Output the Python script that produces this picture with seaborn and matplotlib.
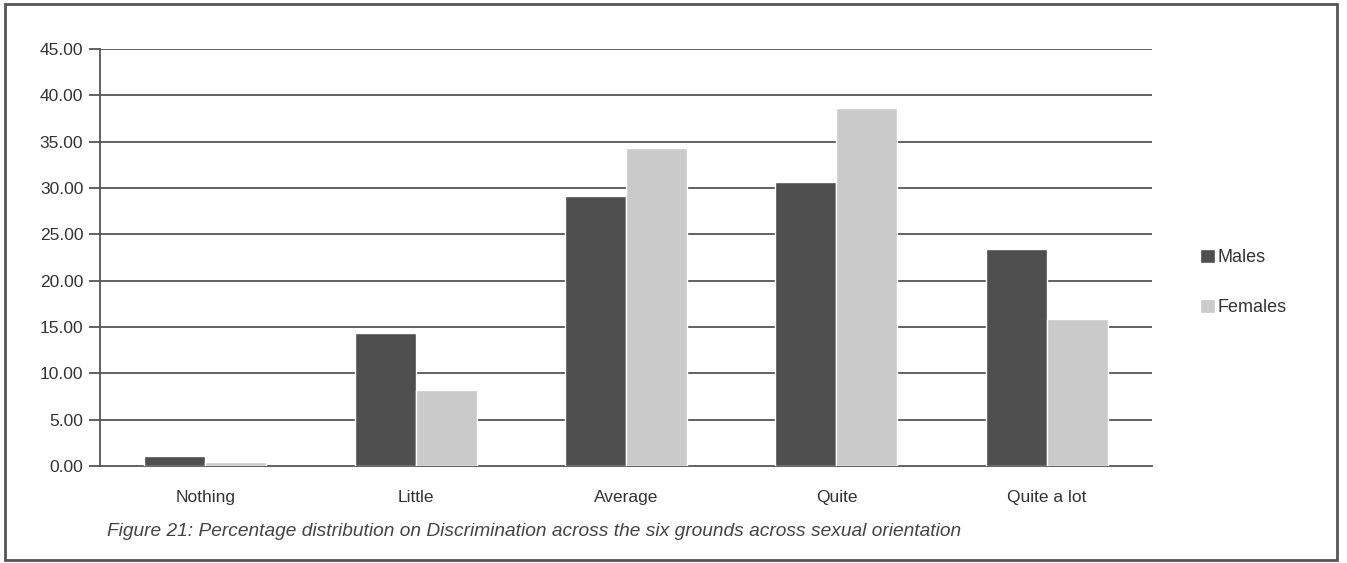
import pandas as pd
import numpy as np
import seaborn as sns
import matplotlib.pyplot as plt
from matplotlib.patches import Rectangle

categories = ['Nothing', 'Little', 'Average', 'Quite', 'Quite a lot']
males = [1.1, 14.3, 29.1, 30.7, 23.4]
females = [0.4, 8.2, 34.3, 38.6, 15.9]
yticks = [0, 5, 10, 15, 20, 25, 30, 35, 40, 45]

df = pd.DataFrame({
    'category': categories * 2,
    'value': males + females,
    'sex': ['Males'] * 5 + ['Females'] * 5,
})

sns.set_style('white')
plt.rcParams['font.family'] = ['Liberation Sans', 'DejaVu Sans']

fig = plt.figure(figsize=(13.47, 5.63), dpi=100)
ax = fig.add_axes([100 / 1347, 1 - 466 / 563, 1052 / 1347, 417 / 563])

sns.barplot(data=df, x='category', y='value', hue='sex', order=categories,
            hue_order=['Males', 'Females'],
            palette={'Males': '#4f4f4f', 'Females': '#cacaca'},
            width=0.58, gap=0.0, ax=ax, zorder=3, legend=True)

ax.set_ylim(0, 45)
ax.set_xlim(-0.5, 4.5)
ax.set_yticks(yticks)
ax.set_yticklabels([f'{t:.2f}' for t in yticks], fontsize=12.5, color='#333333')
ax.tick_params(axis='x', labelsize=12.5, colors='#333333', length=0, pad=17)
ax.tick_params(axis='y', length=8, width=1.3, color='#555555', left=True, pad=4)
ax.set_xlabel('')
ax.set_ylabel('')
for t in yticks[1:]:
    ax.axhline(t, color='#555555', lw=1.3, zorder=1)
for s in ['top', 'right']:
    ax.spines[s].set_visible(False)
ax.spines['left'].set_color('#555555')
ax.spines['bottom'].set_color('#555555')
ax.spines['left'].set_linewidth(1.3)
ax.spines['bottom'].set_linewidth(1.3)

leg = ax.legend(loc='center left', bbox_to_anchor=(1.03, 0.44), frameon=False,
                fontsize=13, handlelength=0.85, handleheight=0.85,
                handletextpad=0.15, labelspacing=1.8)
for txt in leg.get_texts():
    txt.set_color('#333333')

fig.text(107 / 1347, 1 - 532 / 563,
         'Figure 21: Percentage distribution on Discrimination across the six grounds across sexual orientation',
         fontsize=13.8, style='italic', color='#444444', va='center')

fig.patches.append(Rectangle((5 / 1347, 1 - 560 / 563), 1332 / 1347, 556 / 563,
                             transform=fig.transFigure, fill=False,
                             edgecolor='#555555', lw=2))

fig.savefig('out.png', dpi=100)
